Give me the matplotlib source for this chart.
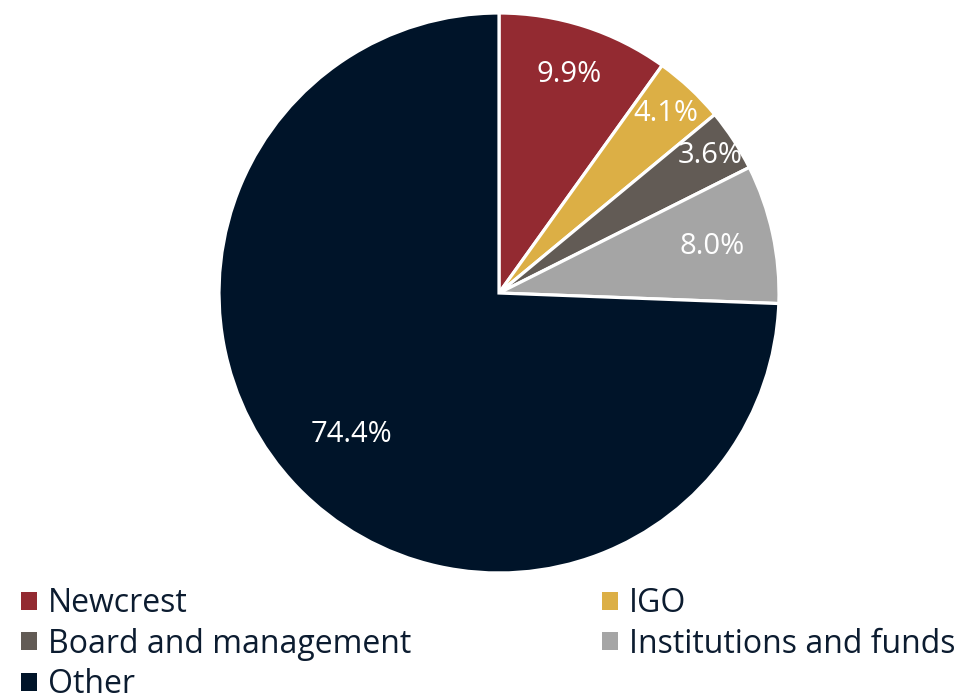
import numpy as np
import matplotlib
matplotlib.use('Agg')
from matplotlib import pyplot as plt
from matplotlib.patches import Patch

plt.rcParams['font.family'] = ['Open Sans', 'DejaVu Sans']

# shareholder groups and their share (%)
groups = ['Newcrest', 'IGO', 'Board and management', 'Institutions and funds', 'Other']
shares = [9.9, 4.1, 3.6, 8.0, 74.4]
colors = ['#932A31', '#DCAF45', '#625B55', '#A5A5A5', '#001429']
# how far out each label sits (fraction of radius)
label_r = [0.82, 0.875, 0.90, 0.78, 0.73]

W, H = 962, 695
fig = plt.figure(figsize=(W / 100, H / 100), dpi=100)

# pie centre (499, 293) px, radius 280 px
cx, cy, r = 499, 293, 280
ax = fig.add_axes([(cx - r) / W, (H - cy - r) / H, 2 * r / W, 2 * r / H])

wedges, _ = ax.pie(shares, colors=colors, startangle=90, counterclock=False,
                   wedgeprops=dict(edgecolor='white', linewidth=2.3))
ax.set_xlim(-1, 1)
ax.set_ylim(-1, 1)
ax.set_aspect('equal')
ax.axis('off')

for w, val, lr in zip(wedges, shares, label_r):
    mid = np.deg2rad((w.theta1 + w.theta2) / 2)
    ax.text(lr * np.cos(mid), lr * np.sin(mid), f'{val:.1f}%',
            ha='center', va='center', color='white', fontsize=21)

# legend, filled column-wise so it reads row by row like the original
order = [0, 2, 4, 1, 3]
handles = [Patch(facecolor=colors[i], edgecolor='none') for i in order]
labels = [groups[i] for i in order]
leg = fig.legend(handles, labels, ncol=2, loc='upper left',
                 bbox_to_anchor=(21 / W, 1 - 587 / H), frameon=False,
                 fontsize=23, handlelength=0.5, handleheight=0.5,
                 handletextpad=0.35, labelspacing=0.24, columnspacing=5.97,
                 borderpad=0, borderaxespad=0)
for t in leg.get_texts():
    t.set_color('#0C1C30')

fig.savefig('out.png', dpi=100)
